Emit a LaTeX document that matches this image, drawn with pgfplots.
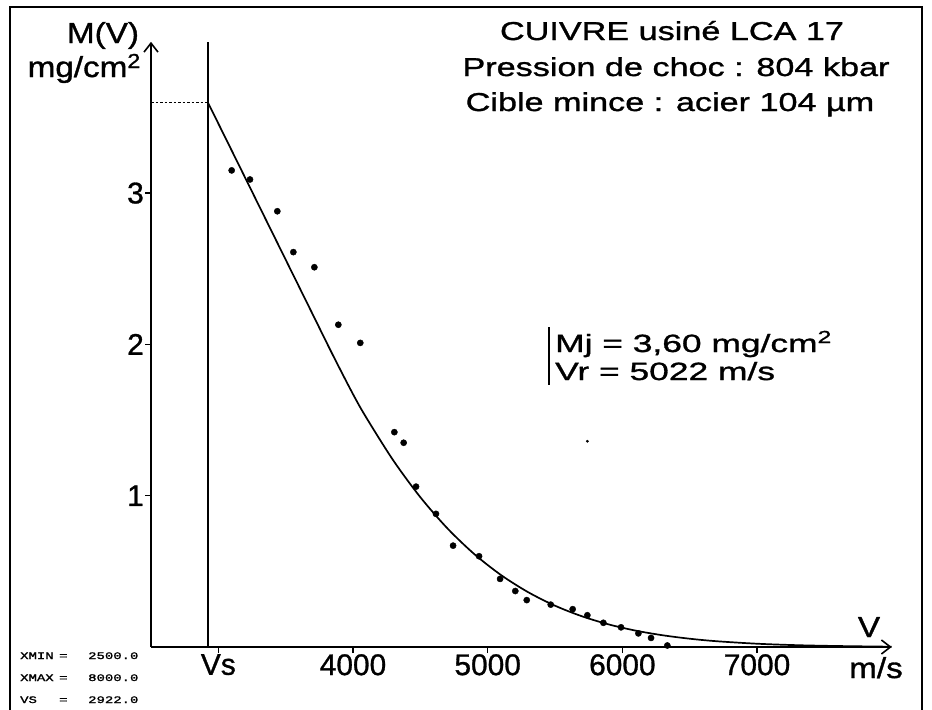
\documentclass[border=0pt]{standalone}
\usepackage{pgfplots}
\pgfplotsset{compat=1.18}
\usepackage{graphicx}
\usetikzlibrary{arrows.meta}
\usepackage{fontspec}
\setmainfont{Liberation Sans}[FakeBold=1]
\newfontfamily\titlefont{Liberation Sans}[FakeStretch=1.32,FakeBold=1.2]
\newfontfamily\annfont{Liberation Sans}[FakeStretch=1.42,FakeBold=1.2]
\newfontfamily\labfont{Liberation Sans}[FakeStretch=1.15,FakeBold=1.2]
\newfontfamily\tinymono{Liberation Mono}[FakeStretch=1.4,FakeBold=1.5]
\begin{document}
\begin{tikzpicture}
\useasboundingbox (0,0) rectangle (932bp,-710bp);
\draw[line width=1.8bp] (10bp,-712bp) -- (10bp,-7bp) -- (922bp,-7bp) -- (922bp,-712bp);
\begin{axis}[
  at={(151bp,-647bp)}, anchor=south west,
  x=0.13467bp, y=151.3bp,
  xmin=2500, xmax=8000, ymin=0, ymax=4,
  axis lines=left,
  axis line style={line width=1.7bp, -{Straight Barb[length=9bp,width=14bp,line width=1.6bp]}},
  xtick={3000,4000,5000,6000,7000},
  xticklabels={Vs,4000,5000,6000,7000},
  ytick={1,2,3}, yticklabels={1,2,3},
  tick align=outside, major tick length=6bp,
  tick style={line width=1.3bp, black},
  ticklabel style={font=\fontsize{30}{30}\selectfont, inner sep=1bp},
  clip=false,
]
\addplot[line width=1.6bp] coordinates {(2922,0) (2922,4)};
\addplot[line width=1.3bp, dash pattern=on 2.5bp off 2bp] coordinates {(2500,3.6) (2922,3.6)};
\addplot[smooth, line width=1.7bp] coordinates {
(2922,3.60) (3100,3.28) (3300,2.92) (3500,2.56) (3700,2.20) (3850,1.93)
(4000,1.671) (4100,1.514) (4300,1.232) (4500,0.990) (4700,0.785) (4900,0.6145)
(5100,0.475) (5300,0.3625) (5500,0.273) (5700,0.203) (5900,0.149) (6100,0.108)
(6300,0.0775) (6500,0.0548) (6700,0.0382) (7000,0.0217) (7300,0.012) (7600,0.0065) (8000,0.002)};
\addplot[only marks, mark=*, mark size=3.1bp, black] coordinates {
(3099,3.15) (3235,3.09) (3438,2.88) (3557,2.61) (3713,2.51) (3891,2.13)
(4054,2.01) (4307,1.42) (4376,1.35) (4468,1.06) (4616,0.88) (4743,0.67)
(4936,0.60) (5092,0.45) (5205,0.37) (5290,0.31) (5468,0.28) (5631,0.25)
(5740,0.21) (5859,0.16) (5990,0.13) (6119,0.09) (6213,0.06) (6334,0.01)};
\addplot[only marks, mark=*, mark size=1.2bp, black] coordinates {(5740,1.36)};
\end{axis}
% titles
\node[anchor=base, font=\titlefont\fontsize{26}{26}\selectfont] at (672bp,-40bp) {CUIVRE usiné LCA 17};
\node[anchor=base, font=\titlefont\fontsize{26}{26}\selectfont] at (676bp,-76bp) {Pression de choc : 804 kbar};
\node[anchor=base, font=\titlefont\fontsize{26}{26}\selectfont] at (670bp,-111bp) {Cible mince : acier 104 µm};
% y label
\node[anchor=base, font=\labfont\fontsize{29}{29}\selectfont] at (103bp,-43bp) {M(V)};
\node[anchor=base east, font=\labfont\fontsize{29}{29}\selectfont, inner sep=0pt] at (141bp,-77bp) {mg/cm\textsuperscript{2}};
% x label
\node[anchor=base, font=\labfont\fontsize{29}{29}\selectfont] at (869bp,-637bp) {V};
\node[anchor=base, font=\labfont\fontsize{29}{29}\selectfont] at (876bp,-678bp) {m/s};
% annotation
\draw[line width=1.4bp] (549bp,-327bp) -- (549bp,-385bp);
\node[anchor=base west, inner sep=0pt, font=\annfont\fontsize{25}{25}\selectfont] at (555bp,-352bp) {Mj = 3,60 mg/cm\textsuperscript{2}};
\node[anchor=base west, inner sep=0pt, font=\annfont\fontsize{25}{25}\selectfont] at (555bp,-380bp) {Vr = 5022 m/s};
% bottom-left info
\node[anchor=base west, inner sep=0pt, font=\tinymono\fontsize{10}{10}\selectfont] at (20bp,-659bp) {XMIN};
\node[anchor=base west, inner sep=0pt, font=\tinymono\fontsize{10}{10}\selectfont] at (20bp,-681bp) {XMAX};
\node[anchor=base west, inner sep=0pt, font=\tinymono\fontsize{10}{10}\selectfont] at (20bp,-703bp) {VS};
\node[anchor=base west, inner sep=0pt, font=\tinymono\fontsize{10}{10}\selectfont] at (59bp,-659bp) {=};
\node[anchor=base west, inner sep=0pt, font=\tinymono\fontsize{10}{10}\selectfont] at (59bp,-681bp) {=};
\node[anchor=base west, inner sep=0pt, font=\tinymono\fontsize{10}{10}\selectfont] at (59bp,-703bp) {=};
\node[anchor=base west, inner sep=0pt, font=\tinymono\fontsize{10}{10}\selectfont] at (88bp,-659bp) {2500.0};
\node[anchor=base west, inner sep=0pt, font=\tinymono\fontsize{10}{10}\selectfont] at (88bp,-681bp) {8000.0};
\node[anchor=base west, inner sep=0pt, font=\tinymono\fontsize{10}{10}\selectfont] at (88bp,-703bp) {2922.0};
\end{tikzpicture}
\end{document}
